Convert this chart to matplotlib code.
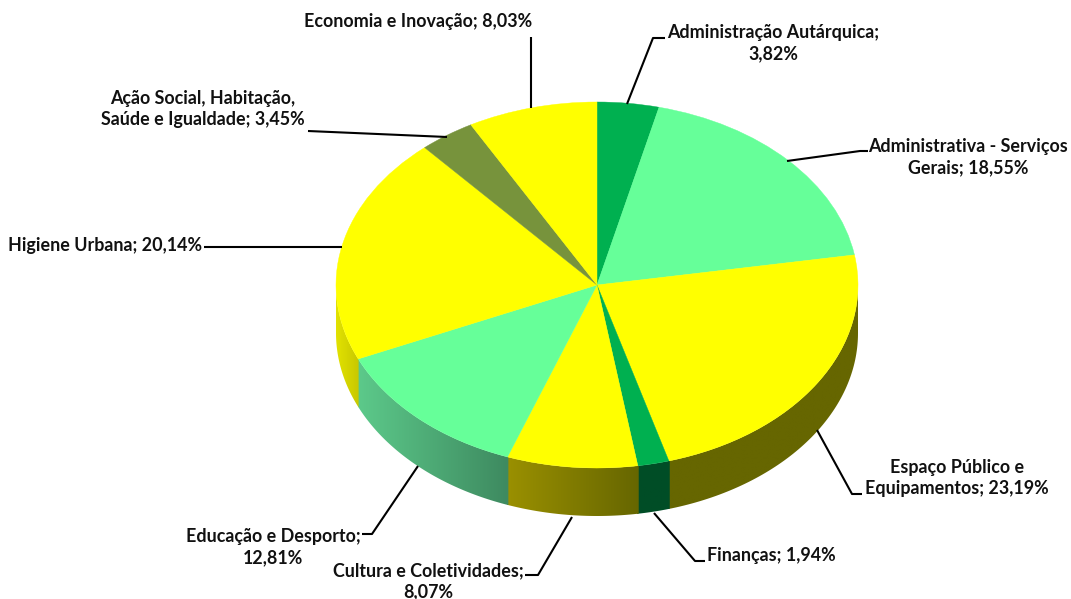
import numpy as np
import matplotlib
matplotlib.use('Agg')
import matplotlib.pyplot as plt
from matplotlib.colors import to_rgb
from matplotlib.patches import Polygon

# clockwise from 12 o'clock
names = ['Administração Autárquica;\n3,82%', 'Administrativa - Serviços\nGerais; 18,55%',
         'Espaço Público e\nEquipamentos; 23,19%', 'Finanças; 1,94%',
         'Cultura e Coletividades;\n8,07%', 'Educação e Desporto;\n12,81%',
         'Higiene Urbana; 20,14%', 'Ação Social, Habitação,\nSaúde e Igualdade; 3,45%',
         'Economia e Inovação; 8,03%']
values = [3.82, 18.55, 23.19, 1.94, 8.07, 12.81, 20.14, 3.45, 8.03]
colors = ['#00B050', '#66FF99', '#FFFF00', '#00B050', '#FFFF00', '#66FF99', '#FFFF00', '#77933C', '#FFFF00']
# side wall shade of each slice, left end -> right end
side_left = ['#006633', '#3E9A66', '#666600', '#004D26', '#9A9000', '#5CC98A', '#E2E200', '#4A5C25', '#666600']
side_right = ['#006633', '#3E9A66', '#666600', '#004D26', '#666600', '#3E8A60', '#C8C800', '#4A5C25', '#666600']

# pie geometry in pixels of the 1071x599 canvas
W, H = 1071, 599
cx, cy, rx, ry, depth = 597, 285, 261, 183, 48

# leader lines and label anchors, pixels
leaders = [[(627, 104), (653, 38), (665, 38)],
           [(787, 161), (860, 151), (868, 151)],
           [(817, 430), (852, 494), (862, 494)],
           [(654, 513), (695, 561), (705, 561)],
           [(572, 517), (538, 575), (525, 575)],
           [(418, 466), (372, 534), (362, 534)],
           [(342, 247), (204, 247)],
           [(447, 137), (308, 131)],
           [(531, 108), (531, 37)]]
label_pos = [(773, 43, 'center'), (1068, 157, 'right'), (957, 478, 'center'),
             (707, 555, 'left'), (428, 581, 'center'), (273, 547, 'center'),
             (8, 245, 'left'), (203, 109, 'center'), (418, 22, 'center')]

plt.rcParams['font.family'] = ['Lato', 'DejaVu Sans']
fig = plt.figure(figsize=(W / 100, H / 100), dpi=100)
ax = fig.add_axes([0, 0, 1, 1])

# side wall: a horizontal gradient image clipped to the rim of each slice
edges = np.cumsum([0] + values) * 3.6
for i in range(len(values)):
    t0, t1 = max(edges[i] - 0.2, 90), min(edges[i + 1] + 0.2, 270)
    if t1 <= t0:
        continue
    t = np.radians(np.linspace(t0, t1, 80))
    x = np.sin(t)
    y = np.cos(t)
    rim = np.r_[np.c_[x, y], np.c_[x[::-1], y[::-1] - depth / ry]]
    lo, hi = np.array(to_rgb(side_left[i])), np.array(to_rgb(side_right[i]))
    grad = np.linspace(lo, hi, 64)[None, :, :]
    im = ax.imshow(grad, extent=(x.min(), x.max(), y.min() - depth / ry, y.max()),
                   aspect='auto', interpolation='bilinear', zorder=1)
    im.set_clip_path(Polygon(rim, transform=ax.transData))

wedges, _ = ax.pie(values, colors=colors, startangle=90, counterclock=False, radius=1)
for w, c in zip(wedges, colors):
    w.set_edgecolor(c)
    w.set_linewidth(0.3)
    w.set_zorder(2)
ax.set_aspect('auto')
ax.set_xlim(-cx / rx, (W - cx) / rx)
ax.set_ylim((cy - H) / ry, cy / ry)
ax.axis('off')

# overlay in pixel coordinates for the labels
ov = fig.add_axes([0, 0, 1, 1])
ov.set_xlim(0, W)
ov.set_ylim(H, 0)
ov.axis('off')
for name, line, (lx, ly, ha) in zip(names, leaders, label_pos):
    ov.plot(*zip(*line), color='black', lw=1.5, solid_capstyle='butt')
    ov.text(lx, ly, name, ha=ha, va='center', fontsize=12.9, fontweight='bold',
            color='#111111', linespacing=1.32, multialignment='center')

fig.savefig('out.png', dpi=100)
